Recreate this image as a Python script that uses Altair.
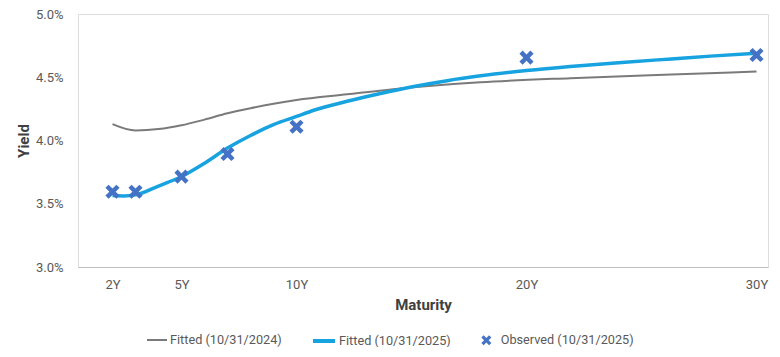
import altair as alt
import pandas as pd

# Fitted curve 10/31/2024
fit24_maturity = [2, 3, 4, 5, 6, 7, 8, 9, 10, 12.2, 14.2, 18, 21.9, 26.3, 30]
fit24_yield = [4.13, 4.08, 4.09, 4.12, 4.165, 4.215, 4.255, 4.29, 4.32, 4.365, 4.405, 4.46, 4.493, 4.522, 4.545]

# Fitted curve 10/31/2025
fit25_maturity = [2, 2.5, 3, 4, 5, 6, 7, 8, 9, 10, 10.75, 12.2, 13.65, 15.1, 16.55, 18, 20, 21.9, 24,
                  26.3, 28, 30]
fit25_yield = [3.565, 3.562, 3.57, 3.64, 3.715, 3.82, 3.94, 4.04, 4.125, 4.19, 4.239, 4.31, 4.372, 4.427,
               4.473, 4.511, 4.553, 4.585, 4.615, 4.645, 4.667, 4.69]

# Observed 10/31/2025
obs_maturity = [2, 3, 5, 7, 10, 20, 30]
obs_yield = [3.595, 3.595, 3.714, 3.893, 4.109, 4.655, 4.676]

x_ticks = [2, 5, 10, 20, 30]
y_ticks = [3.0, 3.5, 4.0, 4.5, 5.0]

lbl24 = "Fitted (10/31/2024)"
lbl25 = "Fitted (10/31/2025)"
lblobs = "Observed (10/31/2025)"

df24 = pd.DataFrame({"m": fit24_maturity, "y": fit24_yield, "s1": lbl24})
df25 = pd.DataFrame({"m": fit25_maturity, "y": fit25_yield, "s2": lbl25})
dfobs = pd.DataFrame({"m": obs_maturity, "y": obs_yield, "s3": lblobs})

FONT = "Roboto"
LABEL_COLOR = "#595959"
TITLE_COLOR = "#404040"

x_enc = alt.X("m:Q", scale=alt.Scale(domain=[0.5, 30.5], nice=False, zero=False),
              axis=alt.Axis(values=x_ticks, labelExpr="datum.value + 'Y'", title="Maturity",
                            grid=False, ticks=False, domain=True, domainColor="#bfbfbf",
                            labelPadding=11, titlePadding=6, labelFontSize=13,
                            labelColor=LABEL_COLOR, titleFontSize=15, titleColor=TITLE_COLOR,
                            titleFontWeight="bold", labelFont=FONT, titleFont=FONT))
y_enc = alt.Y("y:Q", scale=alt.Scale(domain=[3.0, 5.0], nice=False, zero=False),
              axis=alt.Axis(values=y_ticks, labelExpr="format(datum.value, '.1f') + '%'",
                            title="Yield", grid=False, ticks=False, domain=False,
                            labelPadding=15, titlePadding=4, labelFontSize=13,
                            labelColor=LABEL_COLOR, titleFontSize=15, titleColor=TITLE_COLOR,
                            titleFontWeight="bold", labelFont=FONT, titleFont=FONT))

LEG_CY = 325  # legend row centre, relative to plot top


def leg(x, sym, offset=2, **kw):
    return alt.Legend(title=None, orient="none", legendX=x, legendY=LEG_CY - sym / 2,
                      labelFontSize=12.7, labelColor=LABEL_COLOR, labelFont=FONT,
                      labelOffset=offset, padding=0, symbolSize=sym * sym, **kw)


line24 = alt.Chart(df24).mark_line(strokeWidth=2, interpolate="monotone").encode(
    x=x_enc, y=y_enc,
    color=alt.Color("s1:N", scale=alt.Scale(domain=[lbl24], range=["#7a7a7a"]),
                    legend=leg(68, 20, symbolType="stroke", symbolStrokeWidth=2)),
)

X_PATH = ("M-1,-0.55L-0.55,-1L0,-0.45L0.55,-1L1,-0.55L0.45,0L1,0.55L0.55,1L0,0.45"
          "L-0.55,1L-1,0.55L-0.45,0Z")

line25 = alt.Chart(df25).mark_line(strokeWidth=3.5, interpolate="monotone").encode(
    x=x_enc, y=y_enc,
    stroke=alt.Stroke("s2:N", scale=alt.Scale(domain=[lbl25], range=["#17a2e0"]),
                      legend=leg(233, 22, symbolType="stroke", symbolStrokeWidth=4)),
)

points = alt.Chart(dfobs).mark_point(filled=True, size=200, opacity=1, color="#4472c4").encode(
    x=x_enc, y=y_enc,
    shape=alt.Shape("s3:N", scale=alt.Scale(domain=[lblobs], range=[X_PATH]),
                    legend=leg(402, 10, offset=8, symbolFillColor="#4472c4",
                               symbolStrokeWidth=0)),
)

chart = alt.layer(line24, line25, points).properties(
    width=690, height=253,
    autosize=alt.AutoSizeParams(type="none"),
    padding={"left": 70, "top": 6, "right": 4, "bottom": 80},
).configure_view(stroke=None).configure(background="white")

chart.save("out.html", embed_options={"renderer": "svg", "actions": False})
